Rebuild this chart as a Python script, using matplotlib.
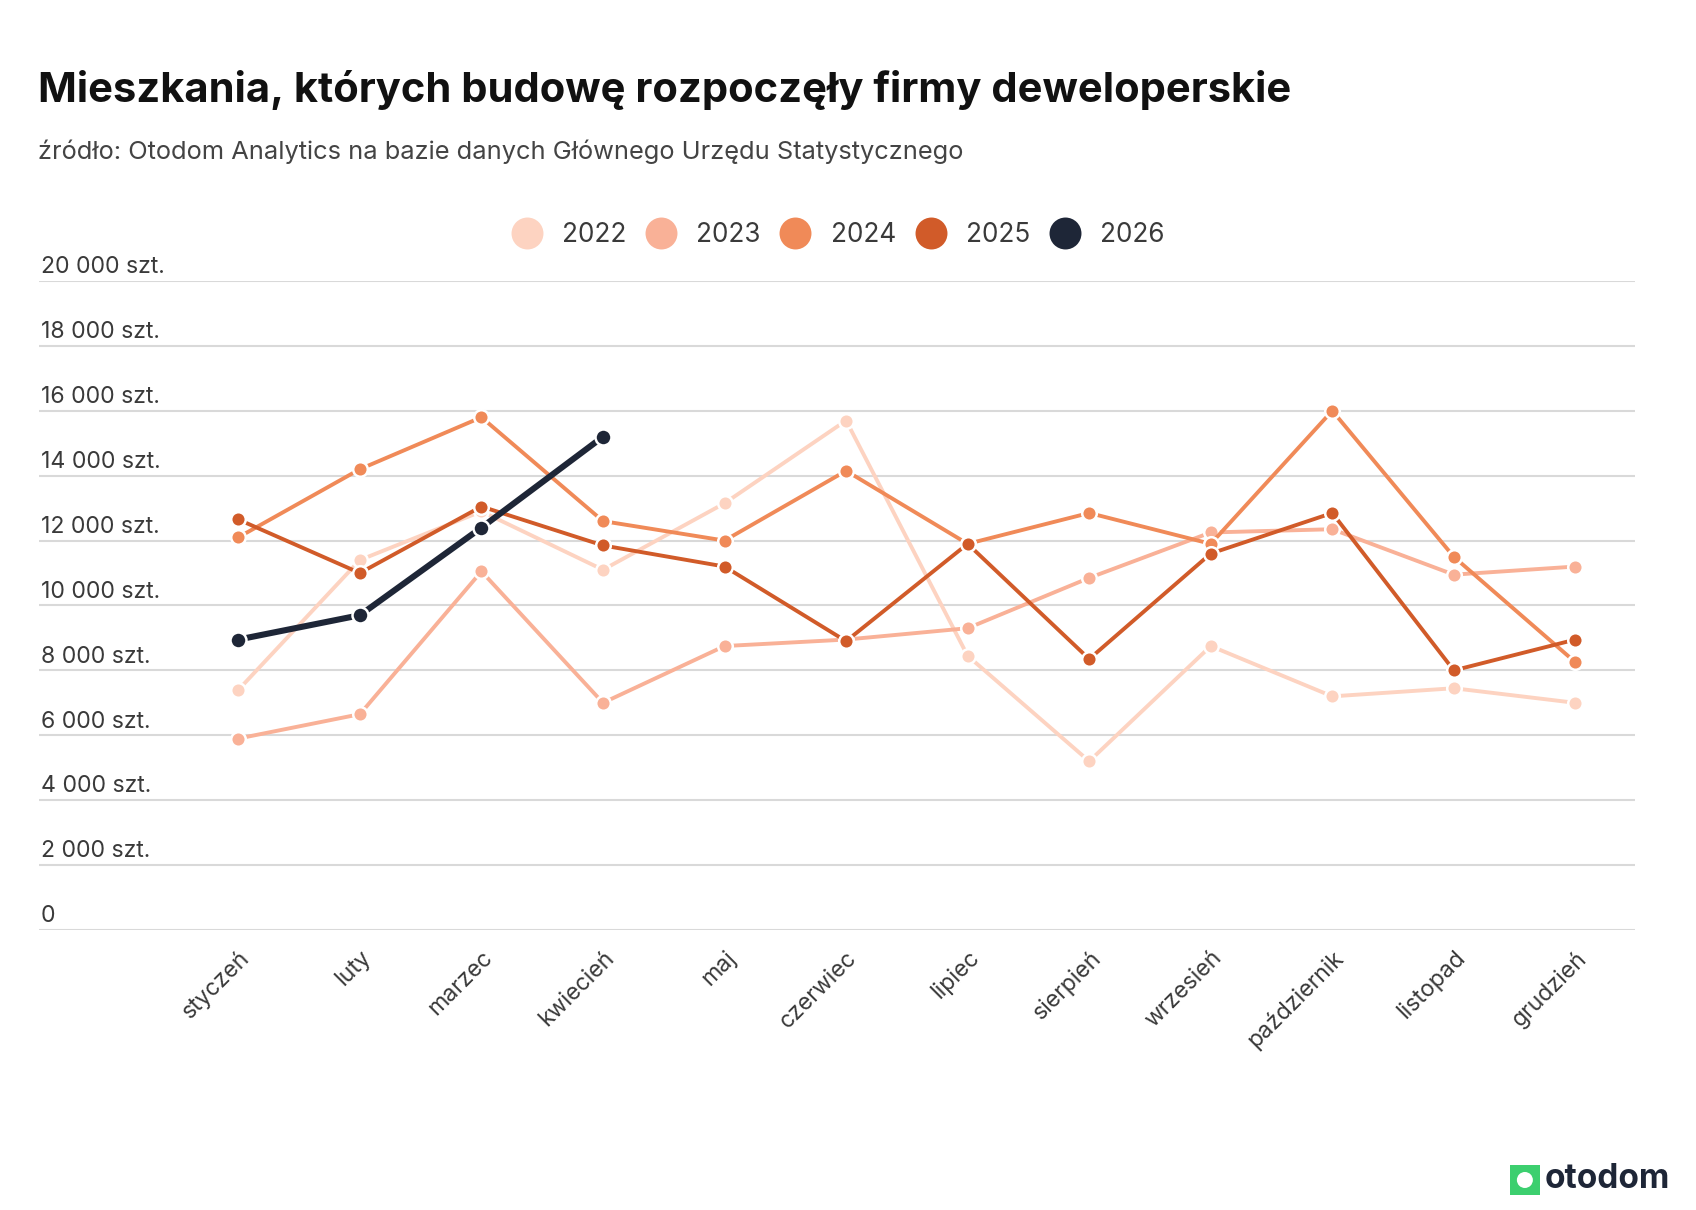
import matplotlib.pyplot as plt
import matplotlib.transforms as mtransforms
from matplotlib.lines import Line2D
from matplotlib.patches import Rectangle, Ellipse

# Data (units: flats started)
months = ['styczeń', 'luty', 'marzec', 'kwiecień', 'maj', 'czerwiec',
          'lipiec', 'sierpień', 'wrzesień', 'październik', 'listopad', 'grudzień']
years = ['2022', '2023', '2024', '2025', '2026']
v2022 = [7400, 11400, 12900, 11100, 13150, 15700, 8450, 5200, 8750, 7200, 7450, 7000]
v2023 = [5900, 6650, 11050, 7000, 8750, 8950, 9300, 10850, 12250, 12350, 10950, 11200]
v2024 = [12100, 14200, 15800, 12600, 12000, 14150, 11900, 12850, 11900, 16000, 11500, 8250]
v2025 = [12650, 11000, 13050, 11850, 11200, 8900, 11900, 8350, 11600, 12850, 8000, 8950]
v2026 = [8950, 9700, 12400, 15200]
series = [v2022, v2023, v2024, v2025, v2026]
colors = ['#fdd3c1', '#f9b197', '#f08a58', '#d15b29', '#1e2637']
yticks = [0, 2000, 4000, 6000, 8000, 10000, 12000, 14000, 16000, 18000, 20000]

plt.rcParams['font.family'] = ['Inter', 'DejaVu Sans']

fig = plt.figure(figsize=(16.96, 12.10), dpi=100)
fig.patch.set_facecolor('white')

# Title and subtitle
fig.text(0.0225, 0.926, 'Mieszkania, których budowę rozpoczęły firmy deweloperskie',
         fontsize=30, fontweight='bold', color='#111111', va='center', ha='left')
fig.text(0.0225, 0.875, 'źródło: Otodom Analytics na bazie danych Głównego Urzędu Statystycznego',
         fontsize=18.3, color='#444444', va='center', ha='left')

ax = fig.add_axes([0.023, 0.2314, 0.941, 0.5364])
for s in ax.spines.values():
    s.set_visible(False)
ax.set_xlim(-1.64, 11.49)
ax.set_ylim(0, 20000)
ax.set_yticks(yticks)
ax.yaxis.grid(True, color='#d9d9d9', linewidth=1.5)
ax.set_axisbelow(True)
ax.tick_params(axis='y', length=0, labelleft=False)

# y labels sit above the gridlines
trans = mtransforms.offset_copy(ax.get_yaxis_transform(), fig=fig, x=0, y=2, units='points')
for t in yticks:
    lab = '0' if t == 0 else f'{t:,}'.replace(',', ' ') + ' szt.'
    ax.text(0.001, t, lab, transform=trans, fontsize=16.6, color='#3a3a3a',
            ha='left', va='bottom')

ax.set_xticks(range(12))
ax.set_xticklabels(months, rotation=45, ha='right', rotation_mode='anchor',
                   fontsize=16.6, color='#3a3a3a')
ax.tick_params(axis='x', length=0, pad=12)

for i, (yr, vals, c) in enumerate(zip(years, series, colors)):
    lw = 4.4 if yr == '2026' else 2.8
    ms = 11.5 if yr == '2026' else 10.5
    ax.plot(range(len(vals)), vals, color=c, linewidth=lw, marker='o', markersize=ms,
            markeredgecolor='white', markeredgewidth=1.8, zorder=3 + i, clip_on=False)

handles = [Line2D([], [], linestyle='none', marker='o', markersize=23,
                  markerfacecolor=c, markeredgecolor='none') for c in colors]
fig.legend(handles, years, loc='center', bbox_to_anchor=(0.494, 0.806), ncol=5,
           frameon=False, fontsize=18.8, handletextpad=0.75, columnspacing=0.73,
           handlelength=1.2, labelcolor='#3a3a3a')

# otodom logo
fig.patches.append(Rectangle((0.8903, 0.0124), 0.0177, 0.0248, transform=fig.transFigure,
                             facecolor='#3ccf6f', edgecolor='none'))
fig.patches.append(Ellipse((0.8991, 0.0248), 16 / 1696, 16 / 1210, transform=fig.transFigure,
                           facecolor='white', edgecolor='none'))
fig.text(0.9105, 0.0255, 'otodom', fontsize=24, fontweight='bold', color='#1e2637',
         va='center', ha='left')

fig.savefig('out.png', dpi=100)
